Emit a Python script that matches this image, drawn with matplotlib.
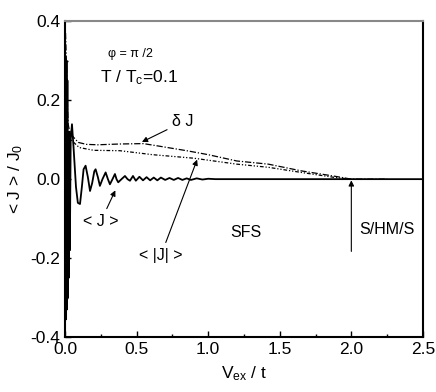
import numpy as np
import matplotlib
matplotlib.use('Agg')
import matplotlib.pyplot as plt
from matplotlib.ticker import MultipleLocator

plt.rcParams['font.family'] = ['Liberation Sans', 'DejaVu Sans']
plt.rcParams['mathtext.fontset'] = 'custom'
plt.rcParams['mathtext.rm'] = 'Liberation Sans'
plt.rcParams['mathtext.it'] = 'Liberation Sans'

#<J> (solid line)
J_x = [0.000, 0.008, 0.011, 0.014, 0.017, 0.020, 0.023, 0.026, 0.030, 0.034, 0.040,
       0.049, 0.060, 0.077, 0.090, 0.105, 0.118, 0.130, 0.144, 0.160, 0.175, 0.190,
       0.205, 0.214, 0.230, 0.244, 0.262, 0.284, 0.300, 0.314, 0.332, 0.349, 0.360,
       0.372, 0.395, 0.419, 0.437, 0.454, 0.475, 0.495, 0.520, 0.545, 0.570, 0.595,
       0.620, 0.645, 0.670, 0.700, 0.730, 0.760, 0.790, 0.820, 0.850, 0.880, 0.920,
       0.960, 1.000, 1.050, 2.500]
J_y = [0.000, -0.355, 0.300, -0.330, 0.250, -0.300, 0.100, -0.250, 0.120, -0.180, 0.100,
       0.139, 0.080, -0.020, -0.060, -0.063, -0.020, 0.025, 0.034, 0.005, -0.030, -0.010,
       0.020, 0.025, 0.005, -0.017, 0.000, 0.017, 0.000, -0.013, 0.000, 0.013, 0.000,
       -0.008, 0.000, 0.008, 0.000, -0.004, 0.008, -0.004, 0.006, -0.003, 0.005, -0.003,
       0.004, -0.003, 0.004, -0.002, 0.003, -0.002, 0.003, -0.002, 0.002, -0.002, 0.002,
       -0.001, 0.001, 0.000, 0.000]

#delta J (upper dash-dot)
dJ_x = [0.004, 0.010, 0.016, 0.022, 0.030, 0.050, 0.093, 0.150, 0.230, 0.384, 0.547,
        0.650, 0.850, 1.000, 1.200, 1.420, 1.650, 1.890, 2.000, 2.250]
dJ_y = [0.370, 0.300, 0.200, 0.140, 0.125, 0.110, 0.093, 0.088, 0.087, 0.089, 0.090,
        0.084, 0.072, 0.062, 0.046, 0.038, 0.021, 0.007, 0.000, 0.000]

#<|J|> (lower dashed)
aJ_x = [0.020, 0.040, 0.100, 0.200, 0.384, 0.610, 0.900, 1.200, 1.420, 1.650, 1.890, 2.000]
aJ_y = [0.120, 0.100, 0.080, 0.073, 0.072, 0.062, 0.053, 0.038, 0.030, 0.017, 0.004, 0.000]

fig = plt.figure(figsize=(4.36, 3.92), dpi=100)
ax = fig.add_axes([0.149, 0.140, 0.821, 0.806])

ax.plot(J_x, J_y, color='black', lw=1.3)
ax.plot(dJ_x, dJ_y, color='black', lw=0.9, dashes=(5, 1.5, 1, 1.5))
ax.plot(aJ_x, aJ_y, color='black', lw=0.9, dashes=(3, 1.5, 1, 1.5, 1, 1.5))

ax.set_xlim(0, 2.5)
ax.set_ylim(-0.4, 0.4)
ax.xaxis.set_major_locator(MultipleLocator(0.5))
ax.xaxis.set_minor_locator(MultipleLocator(0.25))
ax.yaxis.set_major_locator(MultipleLocator(0.2))
ax.yaxis.set_minor_locator(MultipleLocator(0.1))
ax.tick_params(which='both', direction='in', top=False, right=False, labelsize=12.5)
ax.tick_params(which='major', length=4, width=1)
ax.tick_params(which='minor', length=2.5, width=1)
ax.xaxis.set_major_formatter(plt.FuncFormatter(lambda v, p: f'{v:.1f}'))
ax.yaxis.set_major_formatter(plt.FuncFormatter(lambda v, p: f'{v:.1f}'))
for s in ['left', 'bottom', 'right']:
    ax.spines[s].set_linewidth(1.5)
ax.spines['top'].set_color('#888888')
ax.spines['top'].set_linewidth(1.5)

ax.set_xlabel(r'V$_{ex}$ / t', fontsize=12.5, labelpad=5)
ax.set_ylabel(r'< J > / J$_0$', fontsize=12.5, labelpad=4)

ax.text(0.46, 0.316, 'φ = π /2', fontsize=9, ha='center', va='center')
ax.text(0.244, 0.258, r'T / T$_c$=0.1', fontsize=12.5, ha='left', va='center')
ax.text(1.264, -0.135, 'SFS', fontsize=11.5, ha='center', va='center')
ax.text(2.246, -0.127, 'S/HM/S', fontsize=11.5, ha='center', va='center')

arrow = dict(arrowstyle='-|>', color='black', lw=0.8, mutation_scale=8)
ax.annotate('δ J', xy=(0.52, 0.091), xytext=(0.75, 0.145), fontsize=11.5,
            ha='left', va='center', arrowprops=arrow)
ax.annotate('< J >', xy=(0.36, -0.022), xytext=(0.25, -0.107), fontsize=11.5,
            ha='center', va='center', arrowprops=arrow)
ax.annotate('< |J| >', xy=(0.93, 0.056), xytext=(0.67, -0.193), fontsize=11.5,
            ha='center', va='center', arrowprops=arrow)
ax.annotate('', xy=(2.0, 0.004), xytext=(2.0, -0.19), arrowprops=arrow)

fig.savefig('out.png', dpi=100)
